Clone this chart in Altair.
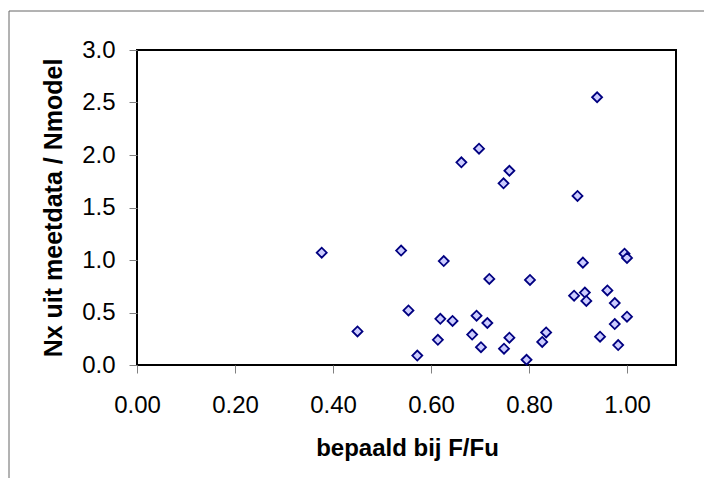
import altair as alt
import pandas as pd

# Data
x_vals = [0.377, 0.450, 0.539, 0.554, 0.572, 0.614, 0.619, 0.626, 0.644, 0.662,
          0.684, 0.693, 0.698, 0.702, 0.715, 0.719, 0.749, 0.748, 0.760, 0.760,
          0.795, 0.802, 0.827, 0.835, 0.892, 0.899, 0.910, 0.914, 0.917, 0.939,
          0.945, 0.960, 0.975, 0.975, 0.982, 0.995, 1.000, 1.000]
y_vals = [1.07, 0.32, 1.09, 0.52, 0.09, 0.24, 0.44, 0.99, 0.42, 1.93,
          0.29, 0.47, 2.06, 0.17, 0.40, 0.82, 0.155, 1.73, 0.26, 1.85,
          0.05, 0.81, 0.22, 0.31, 0.66, 1.61, 0.975, 0.69, 0.61, 2.55,
          0.27, 0.71, 0.59, 0.39, 0.19, 1.06, 0.46, 1.02]
x_ticks = [0.0, 0.2, 0.4, 0.6, 0.8, 1.0]
y_ticks = [0.0, 0.5, 1.0, 1.5, 2.0, 2.5, 3.0]

x_title = "bepaald bij F/Fu"
y_title = "Nx uit meetdata / Nmodel"

df = pd.DataFrame({"x": x_vals, "y": y_vals})

points = alt.Chart(df).mark_point(
    shape="diamond", size=100, filled=True, fill="#ccccff", stroke="#000080",
    strokeWidth=1.8, opacity=1, fillOpacity=1, strokeOpacity=1
).encode(
    x=alt.X("x:Q",
            scale=alt.Scale(domain=[0, 1.1], nice=False, zero=False),
            axis=alt.Axis(values=x_ticks, format=".2f", tickSize=8, labelPadding=20,
                          labelFlush=False, labelOverlap=False,
                          title=x_title, titleFontSize=24, titleX=270, titleY=90,
                          titleBaseline="alphabetic", titleAlign="center")),
    y=alt.Y("y:Q",
            scale=alt.Scale(domain=[0, 3.0], nice=False, zero=False),
            axis=alt.Axis(values=y_ticks, format=".1f", tickSize=8, labelPadding=14,
                          labelFlush=False, labelOverlap=False,
                          title=y_title, titleFontSize=25, titleX=-76, titleY=157.5,
                          titleBaseline="alphabetic", titleAlign="center")),
)

one = pd.DataFrame({"a": [0]})
border_top = alt.Chart(one).mark_rule(stroke="#666666", strokeWidth=1).encode(
    x=alt.value(-128), x2=alt.value(700), y=alt.value(-39)
)
border_left = alt.Chart(one).mark_rule(stroke="#666666", strokeWidth=1).encode(
    x=alt.value(-128), y=alt.value(-39), y2=alt.value(600)
)

chart = alt.layer(border_top, border_left, points).properties(
    width=539, height=315,
    autosize=alt.AutoSizeParams(type="none"),
    padding={"left": 129, "top": 42, "right": 28, "bottom": 113},
    background="white",
).configure_view(
    stroke="black", strokeWidth=2
).configure_axis(
    domain=False, grid=False, tickColor="#808080", tickWidth=1,
    labelFont="Liberation Sans", labelFontSize=24, labelColor="black",
    titleFont="Liberation Sans", titleFontWeight="bold", titleColor="black"
)

chart.save("out.html", embed_options={"renderer": "svg", "actions": False})
